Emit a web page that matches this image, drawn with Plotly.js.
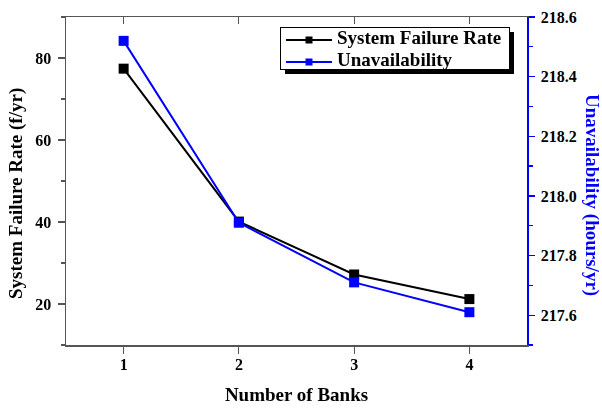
<!DOCTYPE html>
<html>
<head>
<meta charset="utf-8">
<script src="https://cdn.plot.ly/plotly-3.0.1.min.js"></script>
<style>html,body{margin:0;padding:0;background:#fff;}#chart{width:602px;height:408px;}</style>
</head>
<body>
<div id="chart"></div>
<script>
const banks = [1, 2, 3, 4];
const failureRate = [77.4, 40.1, 27.2, 21.2];
const unavailability = [218.52, 217.91, 217.71, 217.61];
const xTickLabels = ['1', '2', '3', '4'];

const FONT = 'Liberation Serif, Times New Roman, serif';
const AXIS_GRAY = '#555555';

const traces = [
  {
    x: banks, y: failureRate, name: 'System Failure Rate',
    type: 'scatter', mode: 'lines+markers',
    line: {color: '#000000', width: 2},
    marker: {symbol: 'square', size: 10, color: '#000000'},
    xaxis: 'x', yaxis: 'y'
  },
  {
    x: banks, y: unavailability, name: 'Unavailability',
    type: 'scatter', mode: 'lines+markers',
    line: {color: '#0000ff', width: 2},
    marker: {symbol: 'square', size: 10, color: '#0000ff'},
    xaxis: 'x', yaxis: 'y2'
  },
  {
    x: banks, y: failureRate, showlegend: false, hoverinfo: 'skip',
    type: 'scatter', mode: 'markers', opacity: 0,
    xaxis: 'x2', yaxis: 'y'
  }
];

const L = 66, R = 75, T = 17, B = 63;
const PW = 602 - L - R, PH = 408 - T - B;
const px2x = function(p){ return (p - L) / PW; };
const px2y = function(p){ return 1 - (p - T) / PH; };

// legend box geometry (pixels)
const LEG = {x: 280, y: 27, w: 229, h: 42, row1: 13, row2: 35, shadow: 5, textShift: -3};

const layout = {
  width: 602, height: 408,
  margin: {l: L, r: R, t: T, b: B},
  paper_bgcolor: '#ffffff', plot_bgcolor: '#ffffff',
  font: {family: FONT, size: 16, color: '#000000'},
  showlegend: true,
  legend: {
    x: px2x(LEG.x), y: px2y(LEG.y), xanchor: 'left', yanchor: 'top',
    bgcolor: '#ffffff', bordercolor: '#000000', borderwidth: 1,
    font: {family: FONT, size: 19, color: '#000000', weight: 'bold'},
    tracegroupgap: 0, itemwidth: 46
  },
  xaxis: {
    range: [0.5, 4.5], tickvals: banks, ticktext: xTickLabels,
    showgrid: false, zeroline: false,
    showline: true, linecolor: AXIS_GRAY, linewidth: 1.5,
    ticks: 'outside', ticklen: 7, tickwidth: 1.2, tickcolor: AXIS_GRAY,
    ticklabelstandoff: -3,
    tickfont: {family: FONT, size: 16, weight: 'bold'},
    title: {text: 'Number of Banks', font: {family: FONT, size: 19, weight: 'bold'}, standoff: 16}
  },
  xaxis2: {
    overlaying: 'x', side: 'top', range: [0.5, 4.5], tickvals: banks,
    showticklabels: false, showgrid: false, zeroline: false,
    showline: true, linecolor: AXIS_GRAY, linewidth: 1.5,
    ticks: 'inside', ticklen: 7, tickwidth: 1.2, tickcolor: AXIS_GRAY
  },
  yaxis: {
    range: [10, 90], tick0: 0, dtick: 20,
    showgrid: false, zeroline: false,
    showline: true, linecolor: AXIS_GRAY, linewidth: 1.5,
    ticks: 'outside', ticklen: 7, tickwidth: 1.2, tickcolor: AXIS_GRAY,
    ticklabelstandoff: 3,
    minor: {dtick: 10, ticks: 'outside', ticklen: 4, tickwidth: 1.2, tickcolor: AXIS_GRAY, showgrid: false},
    tickfont: {family: FONT, size: 16, weight: 'bold'}
  },
  yaxis2: {
    overlaying: 'y', side: 'right', range: [217.5, 218.6], tick0: 217.6, dtick: 0.2,
    tickformat: '.1f', showgrid: false, zeroline: false,
    showline: true, linecolor: '#0000ff', linewidth: 1.5,
    ticks: 'outside', ticklen: 6, tickwidth: 1.2, tickcolor: '#0000ff',
    ticklabelstandoff: 3,
    minor: {dtick: 0.1, ticks: 'outside', ticklen: 4, tickwidth: 1.2, tickcolor: '#0000ff', showgrid: false},
    tickfont: {family: FONT, size: 16, weight: 'bold', color: '#000000'}
  },
  annotations: [
    {
      text: 'System Failure Rate (f/yr)', textangle: -90,
      xref: 'paper', yref: 'paper', x: px2x(16), y: px2y(194),
      xanchor: 'center', yanchor: 'middle', showarrow: false,
      font: {family: FONT, size: 19, weight: 'bold', color: '#000000'}
    },
    {
      text: 'Unavailability (hours/yr)', textangle: 90,
      xref: 'paper', yref: 'paper', x: px2x(592), y: px2y(195),
      xanchor: 'center', yanchor: 'middle', showarrow: false,
      font: {family: FONT, size: 19, weight: 'bold', color: '#0000ff'}
    }
  ],
  shapes: [
    {
      type: 'rect', xref: 'paper', yref: 'paper', layer: 'above',
      x0: px2x(LEG.x + LEG.shadow), x1: px2x(LEG.x + LEG.w + LEG.shadow),
      y0: px2y(LEG.y + LEG.shadow), y1: px2y(LEG.y + LEG.h + LEG.shadow),
      fillcolor: '#000000', line: {width: 0}
    }
  ]
};

Plotly.newPlot('chart', traces, layout, {staticPlot: true}).then(function(gd){
  const legendG = gd.querySelector('.legend');
  if (!legendG) return;
  legendG.setAttribute('transform', 'translate(' + LEG.x + ',' + LEG.y + ')');
  legendG.querySelectorAll('[clip-path]').forEach(function(el){ el.removeAttribute('clip-path'); });
  const bg = legendG.querySelector('.bg');
  if (bg) {
    bg.setAttribute('width', LEG.w);
    bg.setAttribute('height', LEG.h);
  }
  const items = legendG.querySelectorAll('.traces');
  const rows = [LEG.row1, LEG.row2];
  items.forEach(function(it, i){
    it.setAttribute('transform', 'translate(1,' + rows[i] + ')');
    it.querySelectorAll('.legendpoints path.scatterpts').forEach(function(p){
      p.setAttribute('d', 'M3.5,3.5H-3.5V-3.5H3.5Z');
    });
    it.querySelectorAll('text.legendtext').forEach(function(t){
      t.setAttribute('transform', 'translate(0,' + LEG.textShift + ')');
    });
  });
});
</script>
</body>
</html>
